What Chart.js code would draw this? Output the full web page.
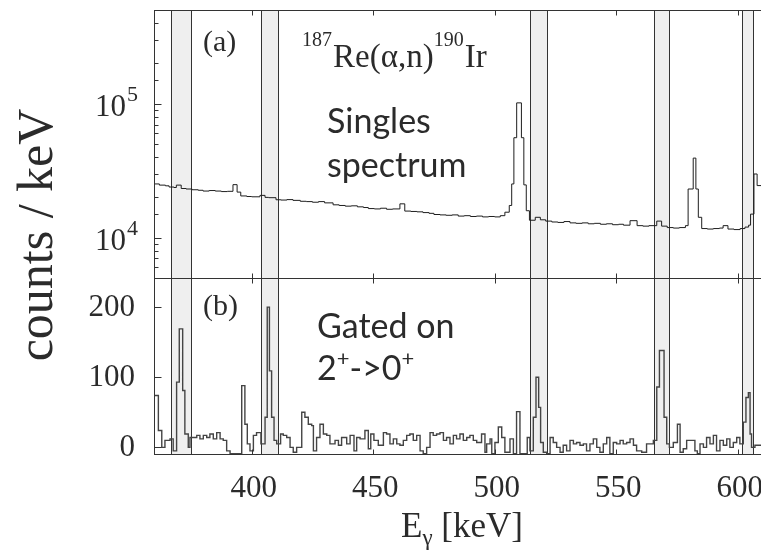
<!DOCTYPE html>
<html>
<head>
<meta charset="utf-8">
<script src="https://cdn.jsdelivr.net/npm/chart.js@4.4.0/dist/chart.umd.min.js"></script>
<style>
  html, body { margin: 0; padding: 0; background: #fff; overflow: hidden; }
  #wrap { position: relative; width: 761px; height: 557px; overflow: hidden; }
  #wrap canvas { position: absolute; left: 0; top: 0; }
</style>
</head>
<body>
<div id="wrap">
  <canvas id="singles" width="780" height="557"></canvas>
  <canvas id="gated" width="780" height="557"></canvas>
</div>
<script>
// energy axis (keV)
var xMin = 359.8, xMax = 613.3;
var xTicks = [400, 450, 500, 550, 600];

// gate windows (keV), shaded in both panels
var bandLo = [366.7, 403.8, 514.5, 565.5, 601.7];
var bandHi = [374.9, 410.7, 521.5, 571.7, 606.3];

// (a) singles spectrum, log scale. edges are bin starts + final end edge
var singlesRange = [5000, 500000];
var singlesEdges = [359.8, 362, 364.5, 366, 368, 369, 371, 373, 375.5, 378, 380, 382.5, 385, 387.5, 390,
  392.3, 394, 395.5, 398, 400, 403.4, 405.5, 407, 410, 412, 414.5, 417, 420, 422.5, 425, 427.5, 430,
  433.5, 436, 438.5, 441, 443.5, 446, 448, 450.5, 453, 455.5, 458, 461, 463, 465.5, 468, 470.5, 473,
  475, 477.5, 480, 482.5, 485, 487.5, 490, 492.5, 495, 497.5, 500, 502.3, 504.2, 506, 507, 507.9,
  509.05, 511, 512, 513, 514.3, 516.7, 518.8, 521, 523.5, 526, 528.5, 531, 533.5, 536, 538.5, 541,
  543.5, 546, 548.5, 551, 553, 555.7, 558.6, 561, 563.5, 566.7, 568.7, 571, 573.5, 576, 578.5, 579.6,
  581.7, 582.8, 583.8, 585.2, 587.5, 590, 592.5, 594, 596, 598.5, 601, 603, 604.5, 605.3, 606.7, 608,
  613.3];
var singlesCounts = [25200, 24700, 24400, 23900, 23700, 24700, 23300, 23100, 22800, 22600, 22300, 22500, 22300, 22100, 22200,
  24900, 21900, 20500, 20300, 20200, 20700, 20000, 19900, 19200, 19100, 19250, 19000, 18700, 18600, 18400, 18600, 18200,
  17600, 17400, 17200, 17300, 17000, 16800, 16500, 16400, 16600, 16300, 16400, 17900, 15800, 15700, 15600, 15400, 15200,
  14900, 14800, 14700, 14800, 14500, 14600, 14400, 14500, 14300, 14400, 14300, 14600, 15500, 17400, 25200, 55800,
  101600, 55800, 24800, 15900, 13500, 14200, 13600, 13300, 13100, 13000, 13200, 12900, 12800, 12900, 12700, 12800,
  12600, 12700, 12500, 12600, 12400, 13400, 12300, 12200, 12300, 13300, 12200, 11900, 11800, 11900, 12300, 23100,
  39300, 23100, 14200, 11700, 11600, 11700, 11800, 12300, 11600, 11500, 11700, 12000, 12400, 15000, 29900, 24500];

// (b) gated on 2+ -> 0+
var gatedRange = [-9.5, 241.5];
var gatedTicks = [0, 100, 200];
var gatedEdges = [359.8, 361.6, 363.0, 364.3, 366.4, 367.7, 369.1, 370.2, 371.6, 372.5, 373.9, 374.6, 377.4,
  378.7, 380.1, 381.5, 382.8, 384.2, 385.6, 387.0, 388.3, 389.7, 391.1, 395.9, 397.2, 398.2, 399.3, 400.7,
  402.0, 403.8, 405.5, 406.4, 407.3, 408.2, 409.2, 410.3, 411.9, 413.0, 414.4, 415.8, 417.1, 418.5, 420.6,
  421.9, 423.3, 424.7, 425.4, 426.7, 428.1, 429.5, 430.9, 432.2, 434.3, 435.7, 437.0, 439.1, 440.5, 442.1,
  443.2, 444.6, 446.6, 448.0, 449.0, 450.3, 452.1, 454.2, 455.5, 456.9, 458.3, 459.7, 461.0, 462.4, 463.8,
  465.1, 466.5, 467.9, 469.3, 470.6, 472.0, 473.4, 474.7, 476.1, 477.5, 478.9, 480.2, 481.6, 483.0, 484.3,
  485.7, 487.1, 488.5, 489.8, 491.2, 492.6, 494.6, 496.0, 496.7, 498.1, 498.8, 500.1, 501.5, 502.9, 504.2,
  506.3, 507.7, 509.0, 510.4, 513.4, 514.5, 515.9, 517.0, 518.1, 518.9, 520.0, 521.4, 522.8, 524.1, 525.5,
  526.9, 528.2, 529.6, 531.0, 532.4, 533.7, 535.1, 536.5, 537.8, 539.2, 540.6, 542.0, 543.3, 544.7, 546.1,
  547.4, 548.8, 550.2, 551.6, 552.9, 554.3, 555.7, 557.1, 558.4, 560.5, 562.5, 565.3, 566.7, 567.8, 569.7,
  570.8, 571.9, 573.5, 575.2, 576.3, 577.6, 579.0, 582.4, 583.4, 584.5, 585.9, 587.2, 588.6, 590.0, 591.3,
  592.7, 594.1, 595.5, 596.8, 598.2, 599.6, 600.9, 602.3, 603.4, 604.4, 605.1, 605.7, 607.1, 613.3];
var gatedCounts = [74, 24, 0, 10, 12, -5, 93, 169, 81, 19, 0, 14, 17,
  12, 17, 14, 19, 12, 21, 12, 10, -5, -9, 88, 33, 5, -5, 17,
  21, 5, 43, 200, 109, 43, 10, 5, 19, 17, 14, 0, -7, 0, 50,
  43, 33, 31, -5, 14, 33, 19, 17, 5, 10, 3, 14, 5, 17, -5,
  14, 12, 24, -2, 19, 10, 3, 21, 19, 5, 12, 5, 3, 10, 17,
  19, 10, 17, -5, -9, 0, 21, 17, 19, 21, 10, 14, 5, 17, 12,
  19, 10, 14, 17, 10, 7, 19, -7, 5, 12, -9, 7, 29, 14, -7,
  12, -9, 51, -9, 14, -5, 43, 100, 57, 7, -7, -9, 14, 7, 0,
  -7, 3, -5, 10, 5, 7, 3, 5, -5, 5, 12, 0, -7, 5, 14,
  -9, 7, 5, 10, 5, 7, 12, 3, -5, -7, 5, 10, 86, 138, 43,
  5, 0, 7, 33, -7, -2, 10, -5, -9, 5, 0, 14, 5, 17, -5,
  10, 3, 12, 0, 7, 14, 5, 36, 71, 78, 19, 0, 3];

var SERIF = '"Liberation Serif", "Times New Roman", serif';
var INK = '#2b2b2b';

function toPoints(edges, counts) {
  return edges.map(function (e, i) {
    return { x: e, y: counts[Math.min(i, counts.length - 1)] };
  });
}

function line(ctx, x0, y0, x1, y1) {
  ctx.beginPath();
  ctx.moveTo(x0, y0);
  ctx.lineTo(x1, y1);
  ctx.stroke();
}

function blank() { return ''; }

// gate bands behind, frame + inward ticks on top
var framePlugin = {
  id: 'frame',
  beforeDatasetsDraw: function (chart) {
    var a = chart.chartArea, xs = chart.scales.x, ctx = chart.ctx;
    ctx.save();
    ctx.strokeStyle = '#333';
    ctx.lineWidth = 1;
    for (var i = 0; i < bandLo.length; i++) {
      var x0 = Math.round(xs.getPixelForValue(bandLo[i])) + 0.5;
      var x1 = Math.round(xs.getPixelForValue(bandHi[i])) + 0.5;
      ctx.fillStyle = '#efefef';
      ctx.fillRect(x0, a.top, x1 - x0, a.bottom - a.top);
      line(ctx, x0, a.top, x0, a.bottom);
      line(ctx, x1, a.top, x1, a.bottom);
    }
    ctx.restore();
  },
  afterDatasetsDraw: function (chart) {
    var a = chart.chartArea, xs = chart.scales.x, ys = chart.scales.y, ctx = chart.ctx;
    var L = Math.round(a.left) + 0.5, R = Math.round(a.right) + 0.5;
    var T = Math.round(a.top) + 0.5, B = Math.round(a.bottom) + 0.5;
    ctx.save();
    ctx.strokeStyle = '#333';
    ctx.lineWidth = 1;
    ctx.strokeRect(L, T, R - L, B - T);
    xTicks.forEach(function (v) {
      var px = Math.round(xs.getPixelForValue(v)) + 0.5;
      line(ctx, px, T, px, T + 5);
      line(ctx, px, B, px, B - 5);
    });
    var isLog = ys.type === 'logarithmic';
    ys.ticks.forEach(function (t) {
      var py = Math.round(ys.getPixelForValue(t.value)) + 0.5;
      var major = !isLog || Math.abs(Math.log10(t.value) - Math.round(Math.log10(t.value))) < 1e-6;
      line(ctx, L, py, L + (major ? 7 : 4), py);
    });
    ctx.restore();
  }
};

// ---------- (a) singles ----------
var singlesText = {
  id: 'singlesText',
  afterDraw: function (chart) {
    var ctx = chart.ctx, ys = chart.scales.y;
    ctx.save();
    ctx.fillStyle = INK;
    ctx.textBaseline = 'alphabetic';
    ctx.textAlign = 'left';
    // 10^n labels
    ys.ticks.forEach(function (t) {
      var e = Math.log10(t.value);
      if (Math.abs(e - Math.round(e)) > 1e-6) return;
      var py = ys.getPixelForValue(t.value);
      ctx.font = '31px ' + SERIF;
      ctx.textAlign = 'right';
      ctx.fillText('10', 126, py + 12);
      ctx.font = '22px ' + SERIF;
      ctx.textAlign = 'left';
      ctx.fillText(String(Math.round(e)), 127, py - 3);
    });
    ctx.textAlign = 'left';
    ctx.font = '30px ' + SERIF;
    ctx.fillText('(a)', 203, 51);
    var xx = 302;
    ctx.font = '20px ' + SERIF;
    ctx.fillText('187', xx, 46);
    xx += ctx.measureText('187').width + 1;
    ctx.font = '33px ' + SERIF;
    ctx.fillText('Re(\u03b1,n)', xx, 67);
    xx += ctx.measureText('Re(\u03b1,n)').width;
    ctx.font = '20px ' + SERIF;
    ctx.fillText('190', xx, 46);
    xx += ctx.measureText('190').width + 1;
    ctx.font = '33px ' + SERIF;
    ctx.fillText('Ir', xx, 67);
    ctx.font = '34px Lato, "Open Sans", sans-serif';
    ctx.fillText('Singles', 327, 133);
    ctx.fillText('spectrum', 327, 177);
    ctx.restore();
  }
};

new Chart(document.getElementById('singles'), {
  type: 'line',
  data: {
    datasets: [{
      data: toPoints(singlesEdges, singlesCounts),
      stepped: true,
      borderColor: '#1e1e1e',
      borderWidth: 1,
      pointRadius: 0,
      fill: false
    }]
  },
  options: {
    responsive: false,
    animation: false,
    layout: { padding: { top: 9, bottom: 279, left: 0, right: 10 } },
    plugins: { legend: { display: false }, tooltip: { enabled: false } },
    scales: {
      x: { type: 'linear', min: xMin, max: xMax, display: false },
      y: {
        type: 'logarithmic',
        min: singlesRange[0],
        max: singlesRange[1],
        grid: { display: false, drawTicks: false },
        border: { display: false },
        ticks: { autoSkip: false, callback: blank },
        afterFit: function (s) { s.width = 154; }
      }
    }
  },
  plugins: [framePlugin, singlesText]
});

// ---------- (b) gated ----------
var gatedText = {
  id: 'gatedText',
  afterDraw: function (chart) {
    var ctx = chart.ctx, xs = chart.scales.x, ys = chart.scales.y;
    ctx.save();
    ctx.fillStyle = INK;

    // tick labels
    ctx.font = '31px ' + SERIF;
    ctx.textBaseline = 'middle';
    ctx.textAlign = 'right';
    gatedTicks.forEach(function (v) {
      ctx.fillText(String(v), 135, ys.getPixelForValue(v) + 1);
    });
    ctx.textBaseline = 'alphabetic';
    ctx.textAlign = 'center';
    xTicks.forEach(function (v) {
      ctx.fillText(String(v), xs.getPixelForValue(v) + 2, 497);
    });

    ctx.textAlign = 'left';
    ctx.font = '30px ' + SERIF;
    ctx.fillText('(b)', 203, 315);
    var big = '34px Lato, "Open Sans", sans-serif';
    var sup = '22px Lato, "Open Sans", sans-serif';
    ctx.font = big;
    ctx.fillText('Gated on', 317, 338);
    var xx = 317;
    ctx.fillText('2', xx, 380); xx += ctx.measureText('2').width;
    ctx.font = sup; ctx.fillText('+', xx, 366); xx += ctx.measureText('+').width;
    ctx.font = big; ctx.fillText('->0', xx, 380); xx += ctx.measureText('->0').width;
    ctx.font = sup; ctx.fillText('+', xx, 366);

    // x title with subscript gamma
    var fBig = '35px ' + SERIF, fSub = '23px ' + SERIF;
    ctx.font = fBig; var wE = ctx.measureText('E').width, wK = ctx.measureText(' [keV]').width;
    ctx.font = fSub; var wG = ctx.measureText('\u03b3').width;
    var x0 = 462 - (wE + wG + wK) / 2;
    ctx.font = fBig; ctx.fillText('E', x0, 537);
    ctx.font = fSub; ctx.fillText('\u03b3', x0 + wE, 545);
    ctx.font = fBig; ctx.fillText(' [keV]', x0 + wE + wG, 537);

    // y title spanning both panels
    ctx.translate(39, 235);
    ctx.rotate(-Math.PI / 2);
    ctx.textAlign = 'center';
    ctx.textBaseline = 'middle';
    ctx.font = '50px ' + SERIF;
    ctx.fillText('counts / keV', 0, 0);
    ctx.restore();
  }
};

new Chart(document.getElementById('gated'), {
  type: 'line',
  data: {
    datasets: [{
      data: toPoints(gatedEdges, gatedCounts),
      stepped: true,
      borderColor: '#444',
      borderWidth: 1.4,
      pointRadius: 0,
      fill: false
    }]
  },
  options: {
    responsive: false,
    animation: false,
    layout: { padding: { top: 278, bottom: 0, left: 0, right: 10 } },
    plugins: { legend: { display: false }, tooltip: { enabled: false } },
    scales: {
      x: {
        type: 'linear', min: xMin, max: xMax,
        grid: { display: false, drawTicks: false },
        border: { display: false },
        afterBuildTicks: function (s) { s.ticks = xTicks.map(function (v) { return { value: v }; }); },
        afterFit: function (s) { s.height = 103; },
        ticks: { autoSkip: false, maxRotation: 0, callback: blank }
      },
      y: {
        type: 'linear', min: gatedRange[0], max: gatedRange[1],
        grid: { display: false, drawTicks: false },
        border: { display: false },
        afterBuildTicks: function (s) { s.ticks = gatedTicks.map(function (v) { return { value: v }; }); },
        afterFit: function (s) { s.width = 154; },
        ticks: { autoSkip: false, callback: blank }
      }
    }
  },
  plugins: [framePlugin, gatedText]
});
</script>
</body>
</html>
